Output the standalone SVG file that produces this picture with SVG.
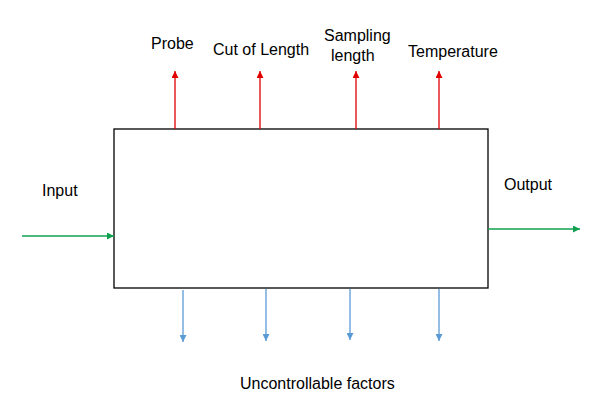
<svg xmlns="http://www.w3.org/2000/svg" width="604" height="404" viewBox="0 0 604 404">
<style>
text{font-family:"Liberation Sans",Arial,sans-serif;font-size:16px;fill:#000}
.red{stroke:#e00000;stroke-width:1.3;fill:none}
.grn{stroke:#10a050;stroke-width:1.3;fill:none}
.blu{stroke:#5b9bd5;stroke-width:1.3;fill:none}
</style>
<defs>
<marker id="ar" viewBox="0 0 10 10" refX="10" refY="5" markerWidth="7" markerHeight="7" markerUnits="userSpaceOnUse" orient="auto"><path d="M0 0L10 5L0 10z" fill="#e00000"/></marker>
<marker id="ag" viewBox="0 0 10 10" refX="10" refY="5" markerWidth="7" markerHeight="7" markerUnits="userSpaceOnUse" orient="auto"><path d="M0 0L10 5L0 10z" fill="#10a050"/></marker>
<marker id="ab" viewBox="0 0 10 10" refX="10" refY="5" markerWidth="7" markerHeight="7" markerUnits="userSpaceOnUse" orient="auto"><path d="M0 0L10 5L0 10z" fill="#5b9bd5"/></marker>
</defs>
<rect width="604" height="404" fill="#fff"/>
<g id="process">
<rect x="114" y="129" width="374" height="159" fill="#fff" stroke="#000" stroke-width="1.3"/>
</g>
<g id="labels">
<text x="151" y="49">Probe</text>
<text x="213" y="55">Cut of Length</text>
<text x="324" y="41">Sampling</text>
<text x="331" y="61">length</text>
<text x="408" y="57">Temperature</text>
<text x="42" y="196">Input</text>
<text x="504" y="190">Output</text>
<text x="240" y="389">Uncontrollable factors</text>
</g>
<g id="connectors">
<line class="red" x1="175" y1="129" x2="175" y2="71" marker-end="url(#ar)"/>
<line class="red" x1="260" y1="129" x2="260" y2="71" marker-end="url(#ar)"/>
<line class="red" x1="356" y1="129" x2="356" y2="71" marker-end="url(#ar)"/>
<line class="red" x1="439" y1="129" x2="439" y2="71" marker-end="url(#ar)"/>
<line class="grn" x1="22" y1="236" x2="114" y2="236" marker-end="url(#ag)"/>
<line class="grn" x1="488" y1="229" x2="580" y2="229" marker-end="url(#ag)"/>
<line class="blu" x1="183" y1="290" x2="183" y2="342" marker-end="url(#ab)"/>
<line class="blu" x1="266" y1="289" x2="266" y2="341" marker-end="url(#ab)"/>
<line class="blu" x1="350" y1="289" x2="350" y2="340" marker-end="url(#ab)"/>
<line class="blu" x1="439" y1="289" x2="439" y2="341" marker-end="url(#ab)"/>
</g>
</svg>
